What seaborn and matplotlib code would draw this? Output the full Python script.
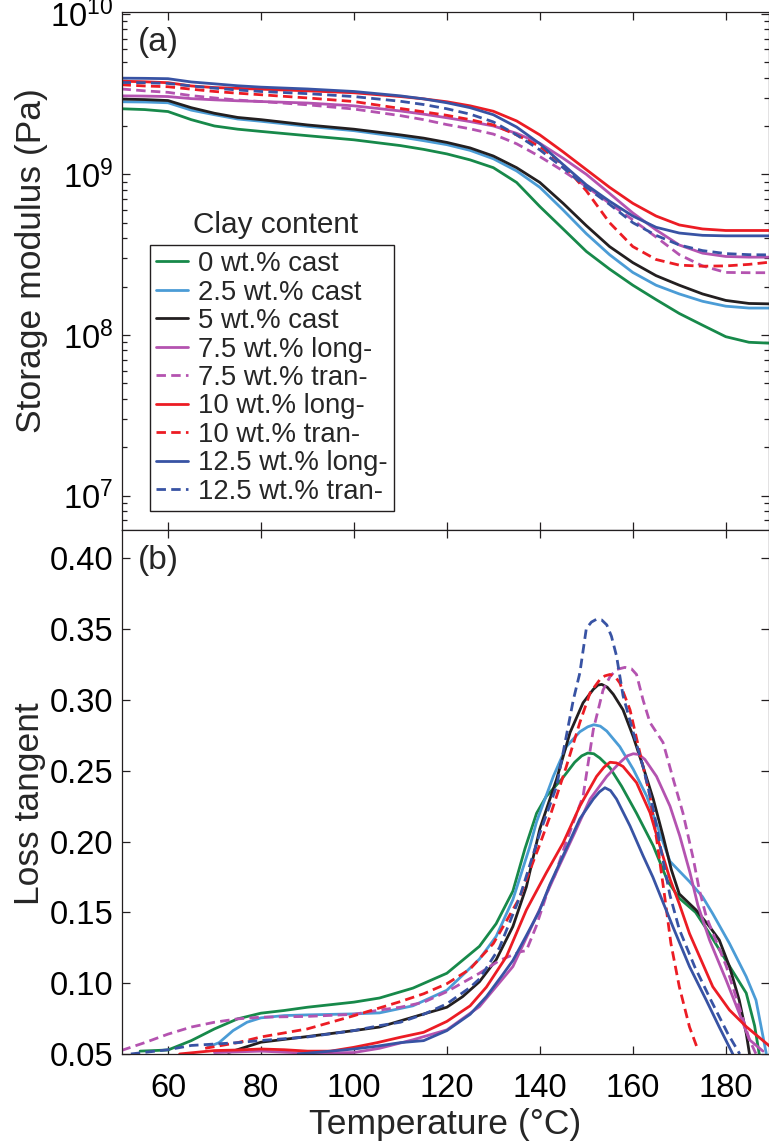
import numpy as np
import pandas as pd
import matplotlib
matplotlib.use("Agg")
import matplotlib.pyplot as plt
import seaborn as sns
from matplotlib.lines import Line2D
from matplotlib.ticker import (LogLocator, LogFormatterMathtext, MultipleLocator,
                               NullFormatter, FormatStrFormatter)

# ---------------------------------------------------------------- data
series = ["0 wt.% cast", "2.5 wt.% cast", "5 wt.% cast",
          "7.5 wt.% long-", "7.5 wt.% tran-",
          "10 wt.% long-", "10 wt.% tran-",
          "12.5 wt.% long-", "12.5 wt.% tran-"]

# (a) storage modulus, Pa, sampled on a common temperature grid (°C)
temp_storage = [50, 55, 60, 65, 70, 75, 80, 90, 100, 110, 115, 120, 125, 130,
                135, 140, 145, 150, 155, 160, 165, 170, 175, 180, 185, 190]

E_0_cast = [2.56e9, 2.53e9, 2.46e9, 2.19e9, 2.00e9, 1.91e9, 1.85e9, 1.74e9, 1.64e9,
            1.51e9, 1.43e9, 1.34e9, 1.23e9, 1.10e9, 8.9e8, 6.3e8, 4.57e8, 3.31e8,
            2.57e8, 2.04e8, 1.66e8, 1.36e8, 1.15e8, 9.75e7, 9.0e7, 8.87e7]
E_25_cast = [2.83e9, 2.82e9, 2.79e9, 2.51e9, 2.35e9, 2.21e9, 2.14e9, 1.99e9, 1.87e9,
             1.71e9, 1.62e9, 1.53e9, 1.41e9, 1.25e9, 1.05e9, 8.3e8, 6.0e8, 4.27e8,
             3.16e8, 2.45e8, 2.04e8, 1.80e8, 1.62e8, 1.51e8, 1.47e8, 1.47e8]
E_5_cast = [2.94e9, 2.92e9, 2.88e9, 2.60e9, 2.40e9, 2.26e9, 2.19e9, 2.03e9, 1.91e9,
            1.76e9, 1.68e9, 1.58e9, 1.46e9, 1.30e9, 1.10e9, 8.9e8, 6.6e8, 4.79e8,
            3.55e8, 2.82e8, 2.34e8, 2.04e8, 1.80e8, 1.64e8, 1.57e8, 1.56e8]
E_75_long = [3.08e9, 3.07e9, 3.05e9, 2.96e9, 2.91e9, 2.87e9, 2.84e9, 2.78e9, 2.67e9,
             2.48e9, 2.37e9, 2.25e9, 2.13e9, 2.00e9, 1.80e9, 1.56e9, 1.26e9, 1.00e9,
             7.6e8, 5.75e8, 4.51e8, 3.63e8, 3.23e8, 3.08e8, 3.05e8, 3.05e8]
E_75_tran = [3.40e9, 3.31e9, 3.24e9, 3.09e9, 2.99e9, 2.90e9, 2.84e9, 2.71e9, 2.55e9,
             2.32e9, 2.19e9, 2.04e9, 1.92e9, 1.78e9, 1.55e9, 1.29e9, 1.05e9, 8.4e8,
             6.6e8, 5.2e8, 4.07e8, 3.16e8, 2.69e8, 2.45e8, 2.44e8, 2.44e8]
E_10_long = [3.80e9, 3.77e9, 3.72e9, 3.55e9, 3.47e9, 3.43e9, 3.39e9, 3.31e9, 3.22e9,
             3.05e9, 2.95e9, 2.83e9, 2.67e9, 2.47e9, 2.15e9, 1.76e9, 1.38e9, 1.07e9,
             8.3e8, 6.6e8, 5.5e8, 4.84e8, 4.57e8, 4.47e8, 4.47e8, 4.47e8]
E_10_tran = [3.61e9, 3.55e9, 3.51e9, 3.39e9, 3.28e9, 3.20e9, 3.13e9, 2.99e9, 2.84e9,
             2.57e9, 2.45e9, 2.33e9, 2.19e9, 2.03e9, 1.76e9, 1.49e9, 1.15e9, 7.9e8,
             5.0e8, 3.55e8, 2.95e8, 2.72e8, 2.68e8, 2.69e8, 2.75e8, 2.85e8]
E_125_long = [3.97e9, 3.96e9, 3.94e9, 3.76e9, 3.66e9, 3.56e9, 3.49e9, 3.40e9, 3.28e9,
              3.08e9, 2.95e9, 2.79e9, 2.60e9, 2.35e9, 1.97e9, 1.55e9, 1.15e9, 8.6e8,
              6.8e8, 5.5e8, 4.68e8, 4.31e8, 4.17e8, 4.14e8, 4.14e8, 4.14e8]
E_125_tran = [3.73e9, 3.72e9, 3.68e9, 3.55e9, 3.44e9, 3.35e9, 3.28e9, 3.18e9, 3.05e9,
              2.85e9, 2.72e9, 2.56e9, 2.37e9, 2.12e9, 1.76e9, 1.42e9, 1.10e9, 8.3e8,
              6.5e8, 5.0e8, 4.17e8, 3.63e8, 3.35e8, 3.21e8, 3.16e8, 3.15e8]

# (b) loss tangent, each run with its own temperature points (°C)
T_0_cast = [54, 60, 65, 70, 75, 80, 85, 90, 100, 105.5, 112.7, 120, 127, 130.6, 134.2,
            136.8, 139.3, 141.4, 144.7, 147.5, 149, 150.3, 151.6, 152.9, 155.1, 157.6,
            160.8, 164.4, 167.5, 170, 173.5, 176.5, 180.8, 184.4, 186.2, 187.2]
tan_0_cast = [0.052, 0.0528, 0.0594, 0.0677, 0.0748, 0.0788, 0.0807, 0.0830, 0.0866,
              0.0895, 0.0965, 0.107, 0.126, 0.142, 0.165, 0.195, 0.220, 0.232, 0.244,
              0.256, 0.2605, 0.2625, 0.262, 0.259, 0.252, 0.239, 0.220, 0.197, 0.172,
              0.160, 0.150, 0.135, 0.112, 0.093, 0.070, 0.050]

T_25_cast = [68.5, 71, 74, 77, 80, 85, 90, 100, 105.5, 112.7, 120, 127, 130.6, 134.2,
             137.8, 139.3, 142.9, 145.7, 148.6, 150.3, 151.6, 153, 154.4, 157.2, 160.1,
             163, 165.8, 168, 172.2, 175, 177.2, 180.8, 184.4, 186.5, 188.7]
tan_25_cast = [0.0547, 0.058, 0.0665, 0.0724, 0.0755, 0.0771, 0.0776, 0.0783, 0.0790,
               0.0840, 0.095, 0.117, 0.133, 0.159, 0.196, 0.214, 0.246, 0.267, 0.2775,
               0.281, 0.2825, 0.2815, 0.278, 0.267, 0.251, 0.232, 0.206, 0.186, 0.1717,
               0.161, 0.149, 0.128, 0.1046, 0.088, 0.0505]

T_5_cast = [73, 80, 90, 100, 105.5, 112.7, 120, 123.4, 127, 130.6, 134.2, 137.1, 140,
            143.6, 146.5, 149.3, 151.5, 152.5, 153.3, 154.5, 155.8, 157.9, 160.1, 162.2,
            164.4, 166.5, 168.3, 170, 173.6, 176.5, 178.6, 180.8, 182.9, 184.4, 185.1]
tan_5_cast = [0.051, 0.0583, 0.0623, 0.0665, 0.069, 0.076, 0.083, 0.0905, 0.101, 0.1165,
              0.140, 0.168, 0.209, 0.244, 0.277, 0.298, 0.3075, 0.3105, 0.311, 0.309,
              0.304, 0.293, 0.274, 0.253, 0.230, 0.204, 0.180, 0.163, 0.1517, 0.140,
              0.1305, 0.1117, 0.088, 0.0646, 0.050]

T_75_long = [70, 80, 90, 100, 105.5, 112.7, 120, 127, 134.2, 139.9, 143.5, 147.2, 150.8,
             154.4, 157.2, 158.8, 160.1, 161.3, 162.6, 165.1, 168, 170.1, 172.3, 174,
             176.5, 180.1, 182.9, 185.1, 188]
tan_75_long = [0.051, 0.052, 0.0505, 0.051, 0.054, 0.060, 0.067, 0.0834, 0.1117, 0.1517,
               0.178, 0.204, 0.230, 0.246, 0.2557, 0.2605, 0.262, 0.2615, 0.258, 0.246,
               0.225, 0.204, 0.178, 0.155, 0.1305, 0.102, 0.0787, 0.060, 0.052]

T_75_tran = [50, 55, 60, 65, 70, 75, 80, 90, 100, 105.5, 110, 115, 120, 127, 131.3, 135.6,
             137.1, 139.2, 142, 143.2, 145.7, 149.3, 151.5, 153.6, 155.1, 156.5, 158.3,
             159.7, 160.8, 162.2, 163.7, 166.5, 168.7, 170.8, 173, 174.3, 175.8, 177.9,
             180.1, 182.9, 185.1, 186.5]
tan_75_tran = [0.0525, 0.058, 0.064, 0.069, 0.0724, 0.0748, 0.076, 0.0765, 0.078, 0.081,
               0.083, 0.0865, 0.094, 0.107, 0.116, 0.122, 0.123, 0.140, 0.168, 0.176,
               0.200, 0.232, 0.279, 0.307, 0.3165, 0.3215, 0.323, 0.322, 0.318, 0.300,
               0.284, 0.270, 0.244, 0.220, 0.188, 0.166, 0.147, 0.130, 0.112, 0.083,
               0.060, 0.050]

T_10_long = [62.5, 70, 75, 80, 85, 90, 95, 100, 105, 110, 115, 120, 125, 128.5, 132.8,
             137.1, 141.4, 145, 148.6, 152.2, 153.8, 155.1, 156.5, 157.9, 160.8, 163.7,
             165.8, 168, 170, 172.2, 175, 177.2, 180.8, 184.4, 190]
tan_10_long = [0.050, 0.0524, 0.0528, 0.0535, 0.053, 0.052, 0.052, 0.0547, 0.058, 0.0618,
               0.0653, 0.073, 0.084, 0.0972, 0.1187, 0.1517, 0.178, 0.199, 0.225, 0.246,
               0.2525, 0.256, 0.2555, 0.253, 0.2416, 0.2204, 0.197, 0.1735, 0.156, 0.135,
               0.114, 0.0975, 0.081, 0.0693, 0.054]

T_10_tran = [68, 75, 80, 90, 100, 105, 110, 115, 120, 125, 130, 133, 135.6, 137.9, 140,
             142.2, 145.7, 148.6, 150.8, 152.9, 154, 155.1, 156.2, 157.2, 159.4, 161.5,
             163.7, 165.2, 166.7, 168.2, 170, 172.2, 174]
tan_10_tran = [0.054, 0.058, 0.062, 0.0677, 0.077, 0.082, 0.087, 0.0925, 0.0996, 0.110,
               0.128, 0.145, 0.160, 0.180, 0.198, 0.218, 0.253, 0.284, 0.305, 0.3143,
               0.317, 0.318, 0.3165, 0.312, 0.293, 0.263, 0.232, 0.200, 0.165, 0.128,
               0.0975, 0.069, 0.053]

T_125_long = [88, 95, 100, 105, 110, 115, 120, 125, 128.5, 132, 134.2, 137, 139.9, 142.2,
              145.7, 148.6, 151.5, 152.8, 154, 155.2, 156.5, 159.4, 162.2, 164.3, 168.6,
              172.2, 175.8, 178.6, 181.5]
tan_125_long = [0.050, 0.052, 0.0535, 0.0555, 0.058, 0.0594, 0.0665, 0.078, 0.0905, 0.106,
                0.116, 0.133, 0.151, 0.170, 0.195, 0.216, 0.230, 0.235, 0.238, 0.236,
                0.230, 0.211, 0.190, 0.175, 0.140, 0.1117, 0.088, 0.069, 0.050]

T_125_tran = [52, 60, 65, 70, 75, 80, 90, 100, 105.5, 110, 115, 120, 125, 127, 131.3,
              135.6, 138, 140, 143.6, 147.2, 148.6, 150, 151.1, 152.2, 153.3, 154.4,
              155.4, 156.5, 157.9, 160.1, 162.2, 164.4, 166.3, 168, 170, 173.3, 176.8,
              180.4, 183]
tan_125_tran = [0.050, 0.053, 0.056, 0.057, 0.058, 0.0595, 0.062, 0.0665, 0.070, 0.0724,
                0.078, 0.0854, 0.097, 0.103, 0.125, 0.160, 0.185, 0.206, 0.239, 0.300,
                0.319, 0.3505, 0.355, 0.357, 0.3565, 0.353, 0.345, 0.331, 0.303, 0.277,
                0.253, 0.223, 0.190, 0.162, 0.138, 0.1117, 0.088, 0.0646, 0.050]

# ---------------------------------------------------------------- long-form tables
storage_cols = [E_0_cast, E_25_cast, E_5_cast, E_75_long, E_75_tran,
                E_10_long, E_10_tran, E_125_long, E_125_tran]
tan_T_cols = [T_0_cast, T_25_cast, T_5_cast, T_75_long, T_75_tran,
              T_10_long, T_10_tran, T_125_long, T_125_tran]
tan_cols = [tan_0_cast, tan_25_cast, tan_5_cast, tan_75_long, tan_75_tran,
            tan_10_long, tan_10_tran, tan_125_long, tan_125_tran]

df_storage = pd.concat(
    [pd.DataFrame({"T": temp_storage, "E": vals, "series": name})
     for name, vals in zip(series, storage_cols)], ignore_index=True)
df_tan = pd.concat(
    [pd.DataFrame({"T": t, "tan": v, "series": name})
     for name, t, v in zip(series, tan_T_cols, tan_cols)], ignore_index=True)

# ---------------------------------------------------------------- styles
green, sky, black = "#17894a", "#4b9cd6", "#231f20"
purple, red, blue = "#b453b0", "#ec1c24", "#3853a4"
palette = dict(zip(series, [green, sky, black, purple, purple, red, red, blue, blue]))
dash = (3.4, 1.9)
dashes = dict(zip(series, ["", "", "", "", dash, "", dash, "", dash]))

sns.set_style("ticks")
plt.rcParams["font.family"] = ["Liberation Sans", "DejaVu Sans"]
plt.rcParams["mathtext.fontset"] = "custom"
plt.rcParams["mathtext.rm"] = "Liberation Sans"
plt.rcParams["mathtext.it"] = "Liberation Sans:italic"
plt.rcParams["mathtext.bf"] = "Liberation Sans:bold"

fig = plt.figure(figsize=(7.69, 11.43), dpi=100)
left, width = 0.1580, 0.8414
ax1 = fig.add_axes([left, 0.5363, width, 0.4529])
ax2 = fig.add_axes([left, 0.0779, width, 0.4584])

lw = 2.0
sns.lineplot(data=df_storage, x="T", y="E", hue="series", style="series",
             hue_order=series, style_order=series, palette=palette, dashes=dashes,
             estimator=None, sort=False, linewidth=lw, legend=False, ax=ax1)
sns.lineplot(data=df_tan, x="T", y="tan", hue="series", style="series",
             hue_order=series, style_order=series, palette=palette, dashes=dashes,
             estimator=None, sort=False, linewidth=lw, legend=False, ax=ax2)
for ax in (ax1, ax2):
    for ln in ax.get_lines():
        ln.set_solid_joinstyle("round")
        ln.set_dash_joinstyle("round")

axis_col = "#231f20"
tick_fs, label_fs = 23.5, 25.5

for ax in (ax1, ax2):
    ax.set_xlim(50, 189.2)
    ax.xaxis.set_major_locator(MultipleLocator(20))
    for sp in ax.spines.values():
        sp.set_color(axis_col)
        sp.set_linewidth(0.9)
    ax.tick_params(which="both", direction="in", top=True, right=True,
                   color=axis_col, width=0.9, labelsize=tick_fs, labelcolor="black")
    ax.tick_params(which="major", length=5.5)
    ax.tick_params(which="minor", length=3.5)
    ax.tick_params(axis="y", pad=6.0)
    ax.tick_params(axis="x", pad=14.0)

# (a) storage modulus, log axis
ax1.set_yscale("log")
ax1.set_ylim(6.1e6, 1.02e10)
ax1.yaxis.set_major_locator(LogLocator(base=10, numticks=10))
ax1.yaxis.set_minor_locator(LogLocator(base=10, subs=np.arange(2, 10), numticks=20))
ax1.yaxis.set_major_formatter(LogFormatterMathtext())
ax1.yaxis.set_minor_formatter(NullFormatter())
ax1.tick_params(labelbottom=False)
ax1.set_xlabel("")
ax1.set_ylabel("Storage modulus (Pa)", fontsize=label_fs)
ax1.yaxis.set_label_coords(-0.113, 0.52)

# (b) loss tangent
ax2.set_ylim(0.05, 0.42)
ax2.yaxis.set_major_locator(MultipleLocator(0.05))
ax2.yaxis.set_major_formatter(FormatStrFormatter("%.2f"))
ax2.set_xlabel("Temperature (°C)", fontsize=label_fs, labelpad=2.5)
ax2.set_ylabel("Loss tangent", fontsize=label_fs)
ax2.yaxis.set_label_coords(-0.117, 0.477)

ax1.text(0.0255, 0.972, "(a)", transform=ax1.transAxes, ha="left", va="top", fontsize=24)
ax2.text(0.0255, 0.972, "(b)", transform=ax2.transAxes, ha="left", va="top", fontsize=24)

# legend: entries in a frame, heading set above it
handles = [Line2D([], [], color=palette[s], lw=lw,
                  linestyle=(0, dash) if dashes[s] else "-") for s in series]
leg = ax1.legend(handles, series, loc="upper left", bbox_to_anchor=(0.044, 0.5505),
                 borderaxespad=0, frameon=True, fancybox=False, framealpha=1,
                 edgecolor=axis_col, fontsize=19.8, handlelength=1.15,
                 handletextpad=0.38, labelspacing=0.09, borderpad=0.22)
leg.get_frame().set_linewidth(1.0)
ax1.text(0.238, 0.5737, "Clay content", transform=ax1.transAxes,
         ha="center", va="baseline", fontsize=21.4)

fig.savefig("out.png", dpi=100)
